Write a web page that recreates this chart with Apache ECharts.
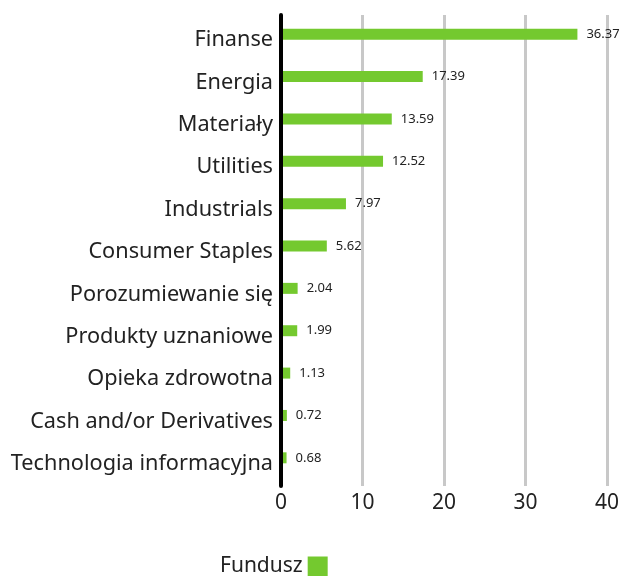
<!DOCTYPE html>
<html>
<head>
<meta charset="utf-8">
<script src="https://cdn.jsdelivr.net/npm/echarts@6/dist/echarts.min.js"></script>
<style>
  html, body { margin: 0; padding: 0; background: #fff; }
  #chart { width: 624px; height: 576px; }
</style>
</head>
<body>
<div id="chart"></div>
<script>
const categories = [
  "Finanse",
  "Energia",
  "Materiały",
  "Utilities",
  "Industrials",
  "Consumer Staples",
  "Porozumiewanie się",
  "Produkty uznaniowe",
  "Opieka zdrowotna",
  "Cash and/or Derivatives",
  "Technologia informacyjna"
];
const fundValues = [36.37, 17.39, 13.59, 12.52, 7.97, 5.62, 2.04, 1.99, 1.13, 0.72, 0.68];
const seriesName = "Fundusz";
const xMin = 0;
const xMax = 40;
const xStep = 10;

const chart = echarts.init(document.getElementById("chart"));

// grid 0 holds the bars and category labels, grid 1 the gridlines, ticks and the black axis
const option = {
  backgroundColor: "#fff",
  textStyle: { fontFamily: "Noto Sans" },
  grid: [
    { left: 281, right: 17, top: 13, bottom: 97 },
    { left: 281, right: 17, top: 15, bottom: 90 }
  ],
  legend: {
    data: [seriesName],
    left: 215,
    top: 551,
    align: "right",
    itemWidth: 20,
    itemHeight: 20,
    icon: "rect",
    textStyle: {
      color: "#222",
      fontSize: 21,
      fontFamily: "Noto Sans",
      padding: [16, 0, 0, 0]
    }
  },
  xAxis: [
    {
      gridIndex: 0,
      type: "value",
      min: xMin,
      max: xMax,
      interval: xStep,
      show: false
    },
    {
      gridIndex: 1,
      type: "value",
      min: xMin,
      max: xMax,
      interval: xStep,
      axisLine: { show: false },
      axisTick: { show: false },
      axisLabel: { color: "#222", fontSize: 21, margin: 7 },
      splitLine: { show: true, lineStyle: { color: "#c8c8c8", width: 3 } }
    }
  ],
  yAxis: [
    {
      gridIndex: 0,
      type: "category",
      inverse: true,
      data: categories,
      axisLine: { show: false },
      axisTick: { show: false },
      axisLabel: {
        color: "#222",
        fontSize: 21.7,
        margin: 8,
        verticalAlign: "top",
        lineHeight: 12
      }
    },
    {
      gridIndex: 1,
      type: "category",
      inverse: true,
      data: categories,
      z: 5,
      axisLine: { show: true, onZero: false, lineStyle: { color: "#000", width: 4 } },
      axisTick: { show: false },
      axisLabel: { show: false },
      splitLine: { show: false }
    }
  ],
  series: [
    {
      name: seriesName,
      type: "bar",
      xAxisIndex: 0,
      yAxisIndex: 0,
      data: fundValues,
      barWidth: 11,
      itemStyle: { color: "#74c92f" },
      label: {
        show: true,
        position: "right",
        distance: 9,
        color: "#222",
        fontSize: 13,
        formatter: (p) => p.value.toFixed(2)
      }
    }
  ]
};

chart.setOption(option);
</script>
</body>
</html>
